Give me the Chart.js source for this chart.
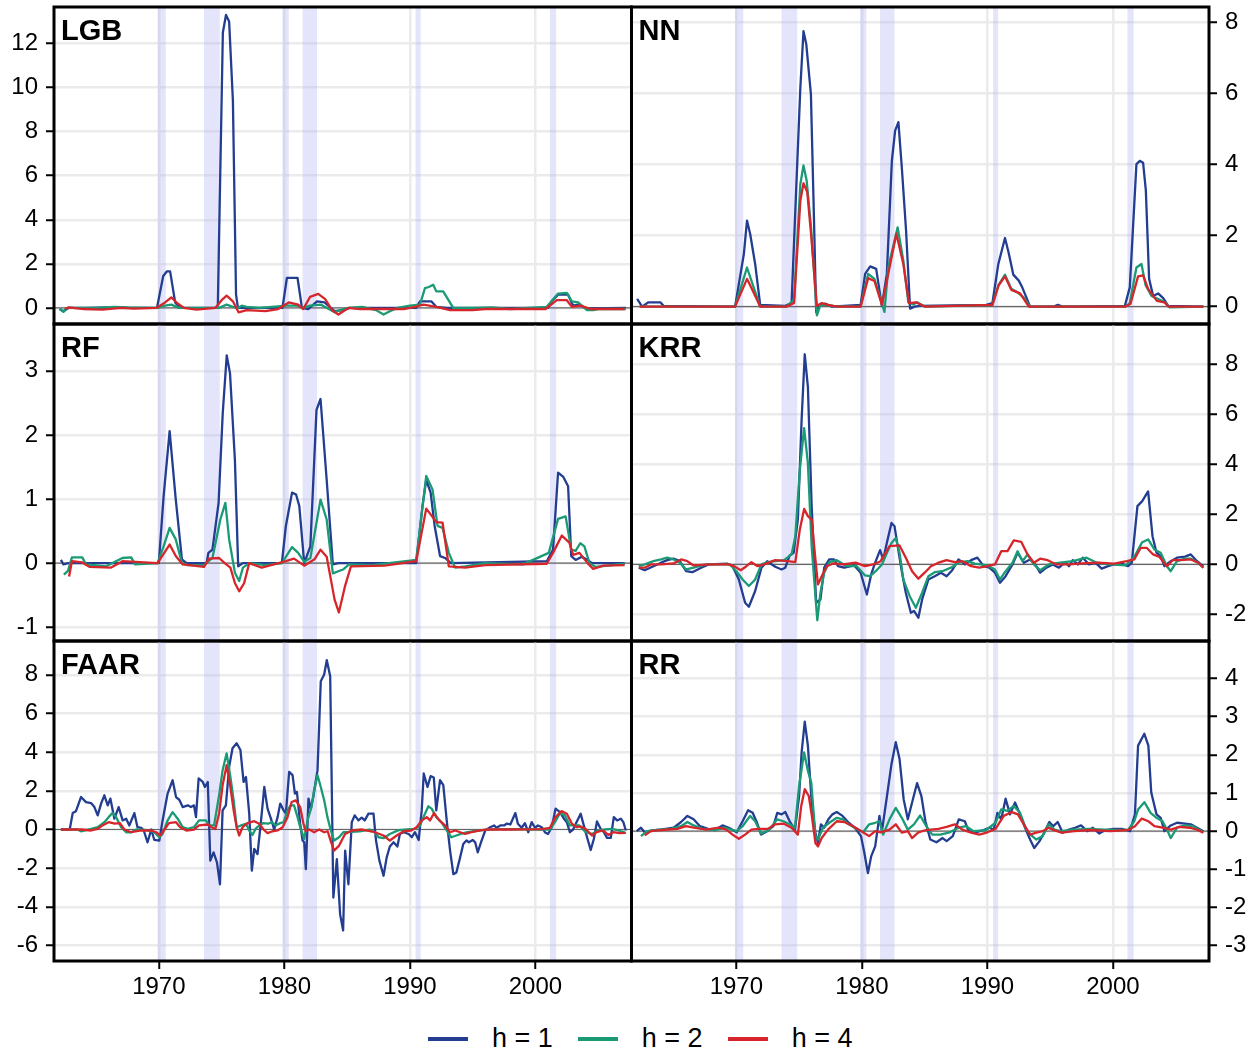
<!DOCTYPE html>
<html>
<head>
<meta charset="utf-8">
<script src="https://cdn.jsdelivr.net/npm/chart.js@4.4.1/dist/chart.umd.min.js"></script>
<style>
  body { margin: 0; background: #fff; }
  #wrap { position: relative; width: 1258px; height: 1055px; font-family: "Liberation Sans", Arial, sans-serif; }
  #wrap canvas { position: absolute; }
  #legend { position: absolute; left: 428px; top: 1023px; display: flex; align-items: center; font-size: 27px; color: #000; }
  #legend .sw { display: inline-block; width: 40px; height: 4px; margin-right: 24px; }
  #legend .lb { margin-right: 25px; }
</style>
</head>
<body>
<div id="wrap"><div id="legend"></div></div>
<script>
// series labels and colours
const seriesNames = ['h = 1', 'h = 2', 'h = 4'];
const seriesColors = ['#233d91', '#1b9a76', '#d7262b'];

// shared time axis
const xRange = [1961.65, 2007.65];
const yearTicks = [1970, 1980, 1990, 2000];
const recessions = [[1969.9, 1970.55], [1973.6, 1974.85], [1979.85, 1980.35], [1981.45, 1982.6], [1990.45, 1990.85], [2001.15, 2001.65]];

// y axes
const ticksLGB = [0, 2, 4, 6, 8, 10, 12];
const ticksNN = [0, 2, 4, 6, 8];
const ticksRF = [-1, 0, 1, 2, 3];
const ticksKRR = [-2, 0, 2, 4, 6, 8];
const ticksFAAR = [-6, -4, -2, 0, 2, 4, 6, 8];
const ticksRR = [-3, -2, -1, 0, 1, 2, 3, 4];
const rangeLGB = [-0.73, 13.66];
const rangeNN = [-0.49, 8.43];
const rangeRF = [-1.215, 3.73];
const rangeKRR = [-3.06, 9.61];
const rangeFAAR = [-6.8, 9.75];
const rangeRR = [-3.4, 4.98];

// LGB
const lgbH1 = [[1962.1,-0.05],[1962.4,-0.15],[1962.8,0],[1964,0],[1966,0.02],[1968,0],[1969.85,0],[1970.35,1.45],[1970.65,1.66],[1970.9,1.66],[1971.3,0.25],[1971.7,0],[1974.5,0],[1974.7,0.1],[1975.1,12.5],[1975.35,13.3],[1975.6,13.0],[1975.9,9.4],[1976.15,0.6],[1976.3,0],[1979.85,0],[1980.2,1.36],[1981.05,1.36],[1981.4,0],[1981.9,-0.05],[1982.6,0.3],[1983.2,0.25],[1983.7,0],[1984.0,-0.15],[1984.7,-0.1],[1985.2,0],[1990.5,0],[1990.8,0.3],[1991.7,0.3],[1992.1,0.05],[1993,0],[2001.0,0],[2001.3,0.3],[2001.8,0.6],[2002.6,0.6],[2003.0,0.1],[2003.4,0.15],[2004.1,-0.02],[2007.2,0]];
const lgbH2 = [[1962.1,-0.05],[1962.4,-0.18],[1962.7,0],[1965,0],[1966.5,0.05],[1967.5,0.02],[1969.9,0],[1970.5,0.1],[1971.0,0.15],[1971.6,0],[1974.8,0],[1975.4,0.15],[1975.9,0.05],[1976.3,0],[1976.6,0.1],[1977.0,0.05],[1978,0],[1980.2,0.1],[1981,0.1],[1981.5,0],[1982.05,0.1],[1982.9,0.15],[1983.4,0],[1984.0,-0.2],[1984.4,-0.1],[1985.1,0],[1986.2,0.05],[1987.3,-0.1],[1987.9,-0.3],[1988.4,-0.15],[1989,0],[1990.0,0.1],[1990.8,0.15],[1991.2,0.9],[1991.5,0.95],[1991.86,1.05],[1992.1,0.75],[1992.65,0.75],[1993.45,0],[1995.3,0],[1996.5,0.02],[1998,-0.05],[2000.9,0.05],[2001.8,0.65],[2002.5,0.68],[2002.9,0.3],[2003.4,0.25],[2004.1,-0.1],[2004.6,-0.1],[2005,-0.05],[2007.2,-0.05]];
const lgbH4 = [[1962.5,-0.05],[1962.8,0.02],[1964,-0.05],[1965.5,-0.08],[1967,0],[1968,-0.03],[1969.8,0],[1970.5,0.25],[1971.0,0.48],[1971.5,0.2],[1972,0],[1973,-0.08],[1974.5,0],[1975.0,0.35],[1975.4,0.56],[1975.9,0.3],[1976.35,-0.2],[1977,-0.1],[1978.5,-0.15],[1979.5,-0.05],[1980.35,0.25],[1981.1,0.15],[1981.5,-0.05],[1982.05,0.5],[1982.7,0.64],[1983.25,0.4],[1983.8,-0.1],[1984.3,-0.3],[1984.7,-0.15],[1985.1,0],[1986,-0.05],[1989.5,-0.05],[1990.4,0.05],[1991.07,0.15],[1992.1,0.05],[1993.2,-0.1],[1995.0,-0.1],[1996,-0.05],[2000.8,-0.05],[2001.7,0.35],[2002.5,0.35],[2002.9,0.05],[2003.6,0.1],[2004.4,-0.05],[2007.1,-0.05]];

// NN
const nnH1 = [[1962.1,0.22],[1962.5,0],[1963.0,0.12],[1963.95,0.12],[1964.2,0.02],[1969.9,0],[1970.6,1.48],[1970.85,2.42],[1971.1,2.05],[1971.5,1.2],[1971.9,0.05],[1973.9,0.02],[1974.4,0.1],[1975.1,6.17],[1975.35,7.75],[1975.57,7.39],[1975.94,5.98],[1976.15,2.98],[1976.36,-0.16],[1976.6,0.05],[1977.1,0.08],[1977.6,0],[1979.9,0.05],[1980.26,0.92],[1980.66,1.13],[1981.14,1.06],[1981.59,0.02],[1981.99,0.92],[1982.39,4.11],[1982.65,4.95],[1982.91,5.19],[1983.18,3.92],[1983.52,2.14],[1983.84,-0.06],[1984.2,0],[1984.6,0.02],[1989.9,0.05],[1990.4,0.1],[1990.87,1.2],[1991.4,1.93],[1991.7,1.5],[1992.06,0.9],[1992.5,0.73],[1992.75,0.56],[1993.4,0],[1995.3,0],[1995.6,0.05],[1996,0],[2000.95,0.02],[2001.34,0.54],[2001.87,4.01],[2002.14,4.1],[2002.4,4.05],[2002.62,3.26],[2002.88,0.78],[2003.2,0.3],[2003.6,0.37],[2004.0,0.24],[2004.4,0.02],[2007.2,0]];
const nnH2 = [[1962.3,0],[1969.9,0],[1970.85,1.1],[1971.2,0.73],[1971.9,0],[1974.0,0],[1974.6,0.2],[1975.1,3.45],[1975.35,3.97],[1975.6,3.55],[1975.95,2.23],[1976.42,-0.25],[1976.7,0.05],[1977.3,0.05],[1978,0],[1979.9,0],[1980.5,0.92],[1981.0,0.78],[1981.8,-0.15],[1982.1,1.1],[1982.85,2.23],[1983.3,1.3],[1983.7,0.12],[1984.1,0.06],[1984.4,0.12],[1985,0],[1990.4,0.05],[1990.87,0.6],[1991.4,0.9],[1991.9,0.5],[1992.4,0.4],[1992.9,0.25],[1993.4,0],[2001.0,0],[2001.34,0.1],[2001.87,1.1],[2002.27,1.2],[2002.6,0.6],[2003.07,0.3],[2003.7,0.2],[2004.2,0.1],[2004.5,-0.02],[2007.2,0]];
const nnH4 = [[1962.3,0],[1969.9,0],[1970.85,0.78],[1971.3,0.45],[1971.9,0],[1974.0,0],[1974.6,0.1],[1975.1,2.98],[1975.35,3.47],[1975.65,3.22],[1975.95,2.05],[1976.42,0.02],[1976.8,0.1],[1977.3,0.05],[1978,0],[1979.9,0],[1980.5,0.8],[1981.0,0.72],[1981.6,0.05],[1982.1,0.92],[1982.75,2.05],[1983.3,1.2],[1983.75,0.1],[1984.3,0.12],[1985,0],[1990.4,0.05],[1990.9,0.6],[1991.4,0.85],[1991.9,0.47],[1992.6,0.37],[1993.3,0],[2001.0,0],[2001.4,0.08],[2002.0,0.85],[2002.4,0.88],[2002.8,0.5],[2003.2,0.3],[2003.5,0.16],[2004.1,0.12],[2004.4,0],[2007.2,0]];

// RF
const rfH1 = [[1962.2,0.05],[1962.4,-0.02],[1962.8,0],[1970.0,0],[1970.38,1.04],[1970.86,2.06],[1971.35,0.99],[1971.84,0.06],[1972.2,0],[1973.8,0],[1973.95,0.16],[1974.27,0.21],[1974.76,0.94],[1975.09,2.34],[1975.41,3.24],[1975.67,2.96],[1976.06,1.61],[1976.32,-0.05],[1976.7,0],[1979.8,0],[1980.12,0.58],[1980.61,1.1],[1980.93,1.07],[1981.19,0.89],[1981.58,0],[1982.07,0.26],[1982.56,2.39],[1982.88,2.56],[1983.37,1.3],[1983.86,-0.02],[1984.3,0],[1990.5,0],[1991.0,0.89],[1991.3,1.3],[1991.65,1.1],[1991.97,0.58],[1992.4,0.11],[1992.8,0.08],[1993.27,0],[2000.9,0.03],[2001.4,0.21],[2001.8,1.41],[2002.2,1.35],[2002.6,1.2],[2002.85,0.11],[2003.2,0.05],[2003.7,0.1],[2004.15,0.05],[2004.5,0],[2007.1,0]];
const rfH2 = [[1962.44,-0.18],[1962.76,-0.12],[1963.08,0.09],[1963.9,0.09],[1964.2,-0.02],[1965.8,-0.05],[1967.1,0.08],[1967.8,0.09],[1968.1,-0.02],[1969.9,0],[1970.38,0.26],[1970.86,0.55],[1971.35,0.37],[1971.84,0],[1972.3,-0.03],[1973.6,-0.03],[1974.27,0.08],[1974.9,0.68],[1975.3,0.94],[1975.6,0.37],[1976.06,-0.15],[1976.4,-0.28],[1976.7,-0.07],[1977.2,0],[1978.5,-0.03],[1979.8,0],[1980.61,0.25],[1981.1,0.16],[1981.58,0.02],[1982.07,0.08],[1982.88,0.99],[1983.37,0.68],[1983.86,-0.16],[1984.67,-0.1],[1985.15,-0.02],[1987,-0.03],[1990.5,0.05],[1991.3,1.36],[1991.8,1.15],[1992.2,0.58],[1992.6,0.55],[1993.1,0.16],[1993.6,-0.07],[1994.4,-0.05],[1996.0,0],[1999,-0.02],[2001.06,0.16],[2001.8,0.69],[2002.4,0.73],[2002.85,0.21],[2003.2,0.19],[2003.57,0.31],[2003.9,0.26],[2004.3,0],[2004.8,-0.06],[2007.1,-0.01]];
const rfH4 = [[1962.85,-0.21],[1963.08,0.03],[1963.9,0.01],[1964.5,-0.06],[1966.2,-0.07],[1967.1,0.03],[1969.9,0],[1970.86,0.29],[1971.35,0.11],[1971.9,-0.02],[1973.6,-0.06],[1974.0,0.07],[1974.8,0.08],[1975.25,0],[1975.7,-0.07],[1976.06,-0.31],[1976.4,-0.44],[1976.8,-0.31],[1977.2,0],[1978.2,-0.07],[1980.12,0.03],[1980.77,0.07],[1981.58,-0.04],[1982.4,0.06],[1982.88,0.21],[1983.37,0.1],[1983.7,-0.25],[1984.0,-0.57],[1984.34,-0.77],[1984.83,-0.36],[1985.3,-0.05],[1988,-0.04],[1990.5,0.03],[1991.3,0.85],[1991.65,0.76],[1992.1,0.64],[1992.6,0.63],[1993.1,-0.05],[1994.4,-0.07],[1996,-0.03],[2000.9,-0.01],[2001.4,0.16],[2002.1,0.43],[2002.7,0.32],[2003.0,0.13],[2003.5,0.16],[2004.15,0],[2004.6,-0.09],[2005.4,-0.04],[2007.1,-0.03]];

// KRR
const krrH1 = [[1962.23,-0.13],[1962.7,-0.23],[1963.4,-0.07],[1964.0,0.07],[1964.5,0.17],[1965.0,0.23],[1965.5,0.13],[1966.0,-0.27],[1966.5,-0.31],[1967.2,-0.13],[1967.8,0],[1969.3,0.03],[1969.7,-0.07],[1970.2,-0.6],[1970.7,-1.53],[1971.0,-1.69],[1971.5,-1.06],[1972.0,-0.13],[1972.46,0.13],[1973.1,-0.09],[1973.6,-0.2],[1973.9,-0.13],[1974.25,0.36],[1974.57,0.47],[1974.9,1.79],[1975.2,5.78],[1975.45,8.4],[1975.7,7.1],[1976.0,2.33],[1976.36,-1.53],[1976.7,-1.4],[1977.0,-0.13],[1977.4,0.2],[1977.8,0.2],[1978.1,-0.07],[1978.6,-0.13],[1979.4,-0.04],[1979.9,-0.33],[1980.4,-1.2],[1980.74,-0.4],[1981.06,0.07],[1981.45,0.57],[1981.7,0.2],[1982.0,0.89],[1982.36,1.66],[1982.6,1.53],[1982.85,0.73],[1983.2,-0.33],[1983.5,-1.13],[1983.9,-1.93],[1984.15,-1.86],[1984.5,-2.13],[1984.8,-1.4],[1985.3,-0.6],[1985.8,-0.47],[1986.3,-0.33],[1986.75,-0.47],[1987.2,-0.23],[1987.7,0.2],[1988.2,0],[1988.7,0.17],[1989.2,0.27],[1989.7,-0.07],[1990.15,-0.13],[1990.6,-0.33],[1991.0,-0.73],[1991.45,-0.47],[1992.0,0],[1992.4,0.47],[1992.9,0.07],[1993.4,0.2],[1993.8,0],[1994.2,-0.33],[1994.7,-0.13],[1995.2,0],[1995.7,-0.13],[1996.2,0.09],[1996.5,-0.07],[1996.8,0.17],[1997.2,0],[1997.6,0.27],[1998.1,0],[1998.6,0.07],[1999.1,-0.17],[1999.6,-0.07],[2000.1,0],[2000.7,0.04],[2001.2,-0.07],[2001.5,0.07],[2001.95,2.33],[2002.33,2.53],[2002.8,2.92],[2003.15,1.13],[2003.47,0.47],[2003.8,0.33],[2004.1,-0.07],[2004.6,0.13],[2005.1,0.27],[2005.74,0.31],[2006.2,0.4],[2006.7,0.13],[2007.2,-0.07]];
const krrH2 = [[1962.23,-0.07],[1962.7,0],[1963.4,0.13],[1964.0,0.2],[1964.5,0.27],[1965.0,0.2],[1965.5,0.07],[1966.0,-0.2],[1966.6,-0.13],[1967.6,0],[1969.5,0],[1970.0,-0.27],[1970.5,-0.6],[1971.0,-0.86],[1971.5,-0.6],[1972.0,0],[1972.5,0.09],[1973.8,0.17],[1974.4,0.4],[1974.7,1.13],[1975.06,3.79],[1975.4,5.45],[1975.7,4.05],[1976.0,0.73],[1976.3,-1.26],[1976.45,-2.23],[1976.7,-1.13],[1977.0,-0.33],[1977.4,0.09],[1978.0,0.17],[1978.8,-0.07],[1979.6,-0.07],[1980.25,-0.44],[1980.65,-0.47],[1981.1,-0.27],[1981.6,0],[1982.0,0.47],[1982.36,0.86],[1982.7,1.06],[1983.0,0.47],[1983.3,-0.6],[1983.8,-1.26],[1984.3,-1.73],[1984.8,-1.13],[1985.3,-0.47],[1985.8,-0.31],[1986.4,-0.27],[1987.1,-0.13],[1987.7,0.07],[1988.4,0.13],[1989.0,0.03],[1990.0,-0.04],[1990.6,-0.2],[1991.0,-0.6],[1991.45,-0.27],[1992.0,0.07],[1992.4,0.53],[1992.8,0.13],[1993.2,0.4],[1993.7,0],[1994.2,-0.23],[1994.9,0],[1995.8,0.07],[1996.8,0.13],[1997.9,0.27],[1998.7,0.07],[1999.7,0],[2001.0,-0.04],[2001.7,0.31],[2002.33,0.89],[2002.8,1.0],[2003.3,0.6],[2003.8,0.47],[2004.3,-0.07],[2004.6,-0.27],[2005.1,0.13],[2005.74,0.23],[2006.2,0.23],[2006.7,0.09],[2007.2,-0.13]];
const krrH4 = [[1962.23,-0.13],[1962.7,-0.13],[1963.2,0],[1964.0,0],[1965.0,0.04],[1965.6,0.2],[1966.1,0.13],[1966.6,-0.04],[1967.9,0],[1969.4,0],[1969.9,-0.09],[1970.35,-0.23],[1970.8,-0.07],[1971.2,0.09],[1971.7,-0.07],[1972.2,0],[1973.1,0.17],[1974.1,0.13],[1974.7,0.09],[1975.06,1.4],[1975.4,2.22],[1975.7,1.93],[1976.0,1.79],[1976.3,0.2],[1976.5,-0.8],[1976.8,-0.47],[1977.2,-0.07],[1977.7,0.04],[1978.5,0],[1979.5,0.07],[1980.25,-0.07],[1980.9,0],[1981.5,0.13],[1982.2,0.73],[1983.0,0.76],[1983.5,0.27],[1984.0,-0.27],[1984.5,-0.57],[1985.0,-0.33],[1985.5,-0.07],[1986.1,0.07],[1986.75,0.17],[1987.4,0.09],[1988.0,0.13],[1988.7,-0.07],[1989.35,-0.13],[1990.0,-0.07],[1990.6,0],[1991.1,0.53],[1991.6,0.53],[1992.1,0.96],[1992.7,0.9],[1993.2,0.4],[1993.7,0.07],[1994.2,0.23],[1994.8,0.17],[1995.5,0],[1996.5,0],[1997.5,0.04],[1998.8,0.07],[2000.1,0.03],[2001.1,0.13],[2001.7,0.2],[2002.2,0.66],[2002.7,0.66],[2003.2,0.4],[2003.7,0.3],[2004.3,-0.07],[2004.75,0.17],[2005.4,0.17],[2006.2,0.2],[2006.8,0.07],[2007.2,-0.13]];

// FAAR
const faarH1 = [[1962.2,0],[1962.9,0],[1963.14,0.85],[1963.4,0.95],[1963.8,1.68],[1964.2,1.42],[1964.6,1.37],[1964.87,1.16],[1965.13,0.73],[1965.4,1.34],[1965.66,1.77],[1965.93,1.25],[1966.14,1.6],[1966.46,0.56],[1966.8,1.16],[1967.12,0.47],[1967.4,0.56],[1967.65,0.21],[1968.05,0.85],[1968.3,0.12],[1968.6,0.09],[1968.8,-0.05],[1969.1,-0.66],[1969.4,0],[1969.64,-0.54],[1970.04,-0.57],[1970.3,0.47],[1970.7,1.86],[1971.1,2.55],[1971.37,1.68],[1971.63,1.54],[1971.9,1.16],[1972.3,1.25],[1972.56,1.16],[1972.8,1.25],[1972.96,0.64],[1973.17,2.64],[1973.5,2.46],[1973.67,2.2],[1973.9,2.46],[1974.1,-1.61],[1974.36,-1.18],[1974.63,-1.7],[1974.87,-2.83],[1975.08,0.99],[1975.34,1.25],[1975.6,3.24],[1975.87,4.2],[1976.2,4.46],[1976.5,4.11],[1976.75,2.46],[1976.94,2.72],[1977.2,0.82],[1977.41,-2.13],[1977.6,-1.0],[1977.86,-1.27],[1978.13,0.38],[1978.4,2.2],[1978.66,1.08],[1978.93,0.56],[1979.19,0],[1979.46,0.64],[1979.67,1.34],[1979.94,0.99],[1980.12,0.82],[1980.38,2.98],[1980.65,2.81],[1980.84,1.86],[1981.0,1.94],[1981.26,0.29],[1981.45,-0.57],[1981.58,-0.66],[1981.71,-2.05],[1981.92,1.6],[1982.1,1.08],[1982.3,1.68],[1982.64,3.07],[1982.9,7.67],[1983.17,8.02],[1983.38,8.76],[1983.65,7.93],[1983.9,-3.52],[1984.18,-1.53],[1984.44,-4.39],[1984.68,-5.22],[1984.84,-1.09],[1985.1,-2.83],[1985.37,0.38],[1985.6,0.73],[1985.9,0.47],[1986.16,0.61],[1986.4,0.47],[1986.7,0.82],[1987.1,0.82],[1987.3,-0.57],[1987.57,-1.61],[1987.9,-2.39],[1988.15,-1.44],[1988.4,-0.88],[1988.7,-0.66],[1989.0,-0.88],[1989.2,-0.23],[1989.5,-0.14],[1989.9,-0.23],[1990.15,-0.4],[1990.4,-0.14],[1990.7,-0.54],[1990.94,0.99],[1991.1,2.9],[1991.4,2.2],[1991.65,2.76],[1991.9,2.69],[1992.1,0.99],[1992.4,2.55],[1992.66,2.29],[1992.93,0.47],[1993.2,-1.09],[1993.46,-2.31],[1993.7,-2.22],[1994.0,-1.44],[1994.25,-0.75],[1994.5,-0.57],[1994.7,-0.66],[1995.0,-0.54],[1995.2,-0.66],[1995.4,-1.18],[1995.66,-0.66],[1996.0,-0.05],[1996.4,0.12],[1996.7,0.21],[1996.9,0.09],[1997.2,0.21],[1997.5,0.21],[1997.7,0.3],[1998.0,0.26],[1998.4,0.85],[1998.6,0.3],[1998.9,0.09],[1999.16,0.33],[1999.43,-0.14],[1999.7,0.38],[1999.96,0.09],[2000.2,0.21],[2000.5,0.12],[2000.75,-0.14],[2001.0,-0.23],[2001.3,0.12],[2001.6,1.08],[2001.95,0.9],[2002.27,0.56],[2002.5,0.38],[2002.74,-0.14],[2003.0,0],[2003.27,0.38],[2003.6,0.82],[2003.8,0.33],[2004.07,-0.31],[2004.4,-1.06],[2004.65,-0.49],[2004.9,0.42],[2005.2,0.03],[2005.45,-0.14],[2005.7,-0.43],[2006.0,-0.43],[2006.24,0.64],[2006.5,0.47],[2006.8,0.56],[2007.0,0.38],[2007.2,-0.05]];
const faarH2 = [[1962.2,0],[1963.5,0],[1963.8,-0.09],[1964.6,0.03],[1965.13,0.12],[1965.66,0.38],[1966.0,0.64],[1966.3,0.85],[1966.6,0.64],[1967.0,0.12],[1967.4,-0.14],[1967.8,-0.14],[1968.2,0],[1969.1,-0.03],[1969.64,-0.14],[1970.04,-0.4],[1970.3,-0.23],[1970.7,0.47],[1971.1,0.9],[1971.5,0.56],[1971.9,0.12],[1972.3,0.03],[1972.8,0.12],[1973.2,0.47],[1973.75,0.47],[1974.0,0.21],[1974.4,0.21],[1974.8,1.77],[1975.08,3.07],[1975.4,3.94],[1975.7,2.72],[1975.96,1.51],[1976.2,0.12],[1976.54,0.21],[1976.94,0.3],[1977.2,-0.05],[1977.46,-0.28],[1977.7,0.03],[1977.99,0.21],[1978.3,0.33],[1978.7,0.3],[1979.0,0.38],[1979.3,0.21],[1979.67,0.33],[1979.94,0.38],[1980.25,0.99],[1980.5,1.25],[1980.77,1.25],[1981.05,0.64],[1981.3,0.03],[1981.58,-0.49],[1981.84,0.47],[1982.16,1.16],[1982.37,2.03],[1982.64,2.81],[1982.9,2.2],[1983.17,1.51],[1983.43,0.64],[1983.7,-0.05],[1983.96,-0.57],[1984.36,-0.4],[1984.7,-0.14],[1985.0,-0.14],[1986.0,-0.1],[1986.8,0],[1987.2,-0.14],[1987.5,-0.4],[1987.9,-0.45],[1988.4,-0.23],[1989.1,-0.03],[1989.8,0],[1990.4,0.03],[1990.8,0.21],[1991.2,0.82],[1991.47,1.2],[1991.73,1.08],[1992.1,0.64],[1992.5,0.38],[1992.93,-0.05],[1993.3,-0.4],[1993.7,-0.31],[1994.25,-0.19],[1994.6,-0.14],[1995.0,-0.09],[1995.6,-0.05],[1996.1,0],[1998,0.02],[2000,0],[2001.15,0],[2001.55,0.38],[2001.95,0.85],[2002.35,0.73],[2002.74,0.21],[2003.1,0.21],[2003.5,0.21],[2004.0,-0.14],[2004.5,-0.23],[2005.0,-0.05],[2005.5,0],[2006.06,0.03],[2006.6,-0.05],[2007.1,-0.14]];
const faarH4 = [[1962.2,0],[1963.8,0],[1964.6,-0.05],[1965.13,0.03],[1965.5,0.21],[1966.0,0.38],[1966.5,0.3],[1966.9,0.33],[1967.25,0],[1967.8,-0.14],[1968.6,-0.05],[1969.4,-0.05],[1969.8,-0.14],[1970.1,-0.31],[1970.4,-0.05],[1970.8,0.33],[1971.37,0.38],[1971.7,0.12],[1972.2,-0.05],[1972.8,0],[1973.2,0.21],[1973.9,0.26],[1974.2,0.12],[1974.5,0.03],[1974.8,0.82],[1975.08,2.29],[1975.4,3.33],[1975.7,2.2],[1975.96,0.99],[1976.2,0.12],[1976.4,-0.31],[1976.67,0.12],[1977.07,0.33],[1977.6,0.43],[1978.0,0.3],[1978.34,0],[1978.66,-0.19],[1979.06,-0.09],[1979.46,-0.05],[1979.86,0.12],[1980.25,0.64],[1980.58,1.42],[1980.9,1.51],[1981.26,1.16],[1981.52,0.3],[1981.7,-0.09],[1982.0,0],[1982.37,-0.14],[1982.77,0],[1983.17,-0.14],[1983.45,-0.09],[1983.7,-0.61],[1983.96,-1.09],[1984.36,-0.83],[1984.7,-0.4],[1984.84,-0.23],[1985.37,-0.05],[1986.2,0],[1987.2,-0.14],[1987.9,-0.31],[1988.4,-0.57],[1988.95,-0.31],[1989.5,-0.09],[1990.1,-0.05],[1990.54,0.12],[1990.94,0.47],[1991.34,0.64],[1991.6,0.47],[1991.92,0.85],[1992.34,0.47],[1992.8,0.21],[1993.2,-0.14],[1993.6,-0.05],[1994.0,-0.14],[1994.4,-0.23],[1994.9,-0.14],[1995.6,-0.05],[1996.1,0],[1998,0],[2000.5,0.02],[2001.15,0.09],[2001.6,0.64],[2002.08,0.95],[2002.5,0.82],[2002.9,0.3],[2003.27,0.12],[2003.6,0.16],[2004.0,0.03],[2004.5,-0.31],[2004.86,-0.14],[2005.4,-0.05],[2005.8,-0.28],[2006.2,-0.14],[2006.7,-0.19],[2007.2,-0.17]];

// RR
const rrH1 = [[1962.07,0],[1962.4,0.09],[1962.7,-0.03],[1963.3,0.02],[1964.0,0.04],[1965.0,0.09],[1965.6,0.24],[1966.1,0.4],[1966.6,0.31],[1967.1,0.13],[1967.75,0.06],[1968.3,0.03],[1968.9,0.15],[1969.4,0.09],[1970.03,-0.03],[1970.5,0.26],[1970.94,0.55],[1971.3,0.48],[1971.65,0.22],[1971.97,-0.09],[1972.46,0],[1972.95,0.13],[1973.26,0.48],[1973.6,0.44],[1973.9,0.5],[1974.25,0.26],[1974.67,0.04],[1975.0,0.92],[1975.2,2.06],[1975.45,2.87],[1975.7,2.24],[1976.0,0.75],[1976.3,-0.04],[1976.5,-0.31],[1976.74,0.18],[1977.0,0.09],[1977.33,0.31],[1977.65,0.44],[1978.0,0.5],[1978.46,0.4],[1978.95,0.22],[1979.44,0.09],[1979.93,-0.13],[1980.2,-0.57],[1980.48,-1.1],[1980.74,-0.66],[1981.06,-0.4],[1981.4,0.4],[1981.6,0],[1982.0,0.92],[1982.36,1.76],[1982.7,2.33],[1983.0,1.89],[1983.33,0.83],[1983.66,0.31],[1984.0,0.75],[1984.4,1.26],[1984.74,0.92],[1985.06,0.26],[1985.45,-0.22],[1985.94,-0.29],[1986.43,-0.18],[1986.75,-0.26],[1987.24,-0.13],[1987.72,0.31],[1988.2,0.26],[1988.5,0],[1989.0,-0.04],[1989.7,0.03],[1990.15,0.09],[1990.5,0.04],[1990.8,0.48],[1991.1,0.31],[1991.45,0.85],[1991.8,0.44],[1992.2,0.75],[1992.6,0.44],[1993.0,0.09],[1993.4,-0.22],[1993.73,-0.44],[1994.15,-0.26],[1994.54,-0.03],[1994.93,0.24],[1995.25,0.13],[1995.6,0.24],[1996.0,-0.04],[1996.5,0.04],[1996.98,0.09],[1997.46,0.15],[1997.95,0],[1998.4,0.09],[1998.9,-0.06],[1999.4,0.03],[2000.05,0.06],[2000.7,0.06],[2001.36,0],[2001.75,0.44],[2002.0,2.24],[2002.5,2.55],[2002.82,2.24],[2003.05,1.01],[2003.47,0.44],[2003.8,0.35],[2004.1,0],[2004.6,0.15],[2005.1,0.22],[2005.74,0.2],[2006.2,0.18],[2006.7,0.09],[2007.2,0]];
const rrH2 = [[1962.4,-0.13],[1962.9,0],[1963.8,0.04],[1964.8,0.06],[1965.6,0.13],[1966.1,0.24],[1966.6,0.15],[1967.3,0.06],[1968.3,0.03],[1969.1,0.09],[1970.03,0],[1970.5,0.13],[1971.1,0.4],[1971.5,0.26],[1971.97,-0.06],[1972.6,0.03],[1973.26,0.31],[1973.75,0.26],[1974.25,0.18],[1974.67,0.09],[1975.0,1.19],[1975.4,2.06],[1975.7,1.58],[1975.97,1.27],[1976.3,-0.13],[1976.5,-0.22],[1976.9,0.09],[1977.4,0.22],[1978.0,0.35],[1978.5,0.31],[1978.95,0.18],[1979.6,0.06],[1980.1,-0.03],[1980.58,0.18],[1981.06,0.22],[1981.4,0.26],[1981.7,-0.09],[1982.2,0.31],[1982.7,0.61],[1983.18,0.35],[1983.66,0.04],[1984.15,0.18],[1984.64,0.41],[1985.13,0.13],[1985.6,-0.09],[1986.25,-0.09],[1987.0,-0.03],[1987.7,0.09],[1988.3,0.13],[1988.9,0],[1989.9,0.03],[1990.65,0.22],[1991.1,0.57],[1991.6,0.53],[1992.1,0.66],[1992.6,0.48],[1993.1,0.04],[1993.57,-0.13],[1993.9,-0.22],[1994.4,-0.13],[1994.87,0.18],[1995.35,0.04],[1995.85,0],[1996.8,0.04],[1998.1,0.06],[1999.7,0.03],[2001.2,0.03],[2001.7,0.26],[2002.0,0.57],[2002.5,0.76],[2003.0,0.48],[2003.47,0.35],[2003.95,0.26],[2004.3,0.04],[2004.6,-0.18],[2005.1,0.09],[2005.74,0.15],[2006.4,0.13],[2007.2,-0.03]];
const rrH4 = [[1962.7,-0.11],[1963.2,0],[1964.0,0.03],[1965.3,0.06],[1966.0,0.13],[1966.6,0.09],[1967.6,0.04],[1968.6,0.09],[1969.2,0.04],[1969.7,-0.09],[1970.2,-0.2],[1970.7,-0.09],[1971.2,0.04],[1971.8,0.06],[1972.5,0.06],[1973.1,0.18],[1973.75,0.2],[1974.4,0.09],[1974.9,-0.09],[1975.17,0.66],[1975.45,1.1],[1975.77,0.92],[1976.0,0.44],[1976.3,-0.31],[1976.5,-0.4],[1976.8,-0.18],[1977.3,0.04],[1978.0,0.26],[1978.6,0.24],[1979.3,0.13],[1979.95,0],[1980.58,-0.13],[1981.06,0],[1981.5,-0.03],[1982.2,0.04],[1982.7,0.18],[1983.18,-0.04],[1983.66,0],[1984.0,-0.18],[1984.5,-0.03],[1985.1,0.03],[1986.1,0.06],[1986.75,0.11],[1987.4,0.18],[1988.0,0.04],[1988.7,-0.04],[1989.35,-0.09],[1990.0,-0.03],[1990.65,0.06],[1991.3,0.4],[1991.95,0.5],[1992.43,0.44],[1992.9,0.18],[1993.4,-0.09],[1993.9,-0.04],[1994.4,0],[1994.87,0.09],[1995.2,0.04],[1995.9,-0.04],[1996.9,0],[1998.2,0.03],[1999.8,0],[2001.2,0.03],[2001.75,0.13],[2002.3,0.33],[2002.82,0.26],[2003.3,0.13],[2003.95,0.09],[2004.6,0.04],[2005.3,0.11],[2006.1,0.09],[2006.7,0.04],[2007.2,-0.04]];

const panels = [
  { name: 'LGB',  col: 0, row: 0, series: [lgbH1, lgbH2, lgbH4],    yTicks: ticksLGB,  yRange: rangeLGB },
  { name: 'NN',   col: 1, row: 0, series: [nnH1, nnH2, nnH4],       yTicks: ticksNN,   yRange: rangeNN },
  { name: 'RF',   col: 0, row: 1, series: [rfH1, rfH2, rfH4],       yTicks: ticksRF,   yRange: rangeRF },
  { name: 'KRR',  col: 1, row: 1, series: [krrH1, krrH2, krrH4],    yTicks: ticksKRR,  yRange: rangeKRR },
  { name: 'FAAR', col: 0, row: 2, series: [faarH1, faarH2, faarH4], yTicks: ticksFAAR, yRange: rangeFAAR },
  { name: 'RR',   col: 1, row: 2, series: [rrH1, rrH2, rrH4],       yTicks: ticksRR,   yRange: rangeRR }
];

// canvas placement: left column has its axis on the left, right column on the right
const cols = [
  { left: 0,   width: 640, padL: 0,   padR: 8.5, axisW: 54, pos: 'left' },
  { left: 624, width: 634, padL: 7.5, padR: 0,   axisW: 49, pos: 'right' }
];
const rows = [
  { top: 0,   height: 332, padT: 7, padB: 8, xLabels: false },
  { top: 316, height: 333, padT: 8, padB: 8, xLabels: false },
  { top: 634, height: 367, padT: 7, padB: 0, xLabels: true }
];

const FONT = '"Liberation Sans", Arial, sans-serif';
const gridGrey = '#ebebeb';
const bandFill = 'rgba(185,185,245,0.38)';

function decorations(label) {
  return {
    id: 'decor',
    beforeDatasetsDraw(chart) {
      const { ctx, chartArea: a, scales } = chart;
      ctx.save();
      ctx.beginPath();
      ctx.rect(a.left, a.top, a.width, a.height);
      ctx.clip();
      ctx.fillStyle = bandFill;
      recessions.forEach(([s, e]) => {
        const x1 = scales.x.getPixelForValue(s);
        const x2 = scales.x.getPixelForValue(e);
        ctx.fillRect(x1, a.top, x2 - x1, a.height);
      });
      const y0 = scales.y.getPixelForValue(0);
      ctx.strokeStyle = '#666';
      ctx.lineWidth = 1.2;
      ctx.beginPath();
      ctx.moveTo(a.left, y0);
      ctx.lineTo(a.right, y0);
      ctx.stroke();
      ctx.restore();
    },
    afterDraw(chart) {
      const { ctx, chartArea: a } = chart;
      ctx.save();
      ctx.strokeStyle = '#000';
      ctx.lineWidth = 3;
      ctx.strokeRect(a.left, a.top, a.width, a.height);
      ctx.fillStyle = '#000';
      ctx.font = 'bold 29px ' + FONT;
      ctx.textBaseline = 'alphabetic';
      ctx.fillText(label, a.left + 7, a.top + 32.5);
      ctx.restore();
    }
  };
}

const wrap = document.getElementById('wrap');

panels.forEach(p => {
  const c = cols[p.col], r = rows[p.row];
  const canvas = document.createElement('canvas');
  canvas.width = c.width;
  canvas.height = r.height;
  canvas.style.left = c.left + 'px';
  canvas.style.top = r.top + 'px';
  wrap.appendChild(canvas);

  new Chart(canvas, {
    type: 'line',
    data: {
      datasets: p.series.map((d, i) => ({
        label: seriesNames[i],
        data: d,
        borderColor: seriesColors[i],
        borderWidth: 2.3,
        borderJoinStyle: 'round',
        pointRadius: 0,
        tension: 0,
        fill: false,
        order: 3 - i
      }))
    },
    options: {
      responsive: false,
      animation: false,
      events: [],
      layout: { padding: { top: r.padT, bottom: r.padB, left: c.padL, right: c.padR } },
      plugins: { legend: { display: false }, tooltip: { enabled: false } },
      scales: {
        x: {
          type: 'linear',
          min: xRange[0],
          max: xRange[1],
          afterBuildTicks: s => { s.ticks = yearTicks.map(v => ({ value: v })); },
          afterFit: s => { s.height = r.xLabels ? 40 : 0; s.paddingLeft = 0; s.paddingRight = 0; },
          border: { display: false },
          grid: {
            color: gridGrey,
            lineWidth: 2.5,
            drawTicks: r.xLabels,
            tickLength: 8,
            tickColor: '#000',
            tickWidth: 2
          },
          ticks: {
            display: r.xLabels,
            padding: 4,
            color: '#000',
            font: { family: FONT, size: 24 },
            maxRotation: 0,
            callback: v => String(v)
          }
        },
        y: {
          position: c.pos,
          min: p.yRange[0],
          max: p.yRange[1],
          afterBuildTicks: s => { s.ticks = p.yTicks.map(v => ({ value: v })); },
          afterFit: s => { s.width = c.axisW; s.paddingTop = 0; s.paddingBottom = 0; },
          border: { display: false },
          grid: {
            color: gridGrey,
            lineWidth: 2.5,
            tickLength: 8,
            tickColor: '#000',
            tickWidth: 2
          },
          ticks: {
            padding: 8,
            color: '#000',
            font: { family: FONT, size: 24 },
            callback: v => String(v)
          }
        }
      }
    },
    plugins: [decorations(p.name)]
  });
});

// legend
const legend = document.getElementById('legend');
seriesNames.forEach((n, i) => {
  const sw = document.createElement('span');
  sw.className = 'sw';
  sw.style.background = seriesColors[i];
  const lb = document.createElement('span');
  lb.className = 'lb';
  lb.textContent = n;
  legend.appendChild(sw);
  legend.appendChild(lb);
});
</script>
</body>
</html>
